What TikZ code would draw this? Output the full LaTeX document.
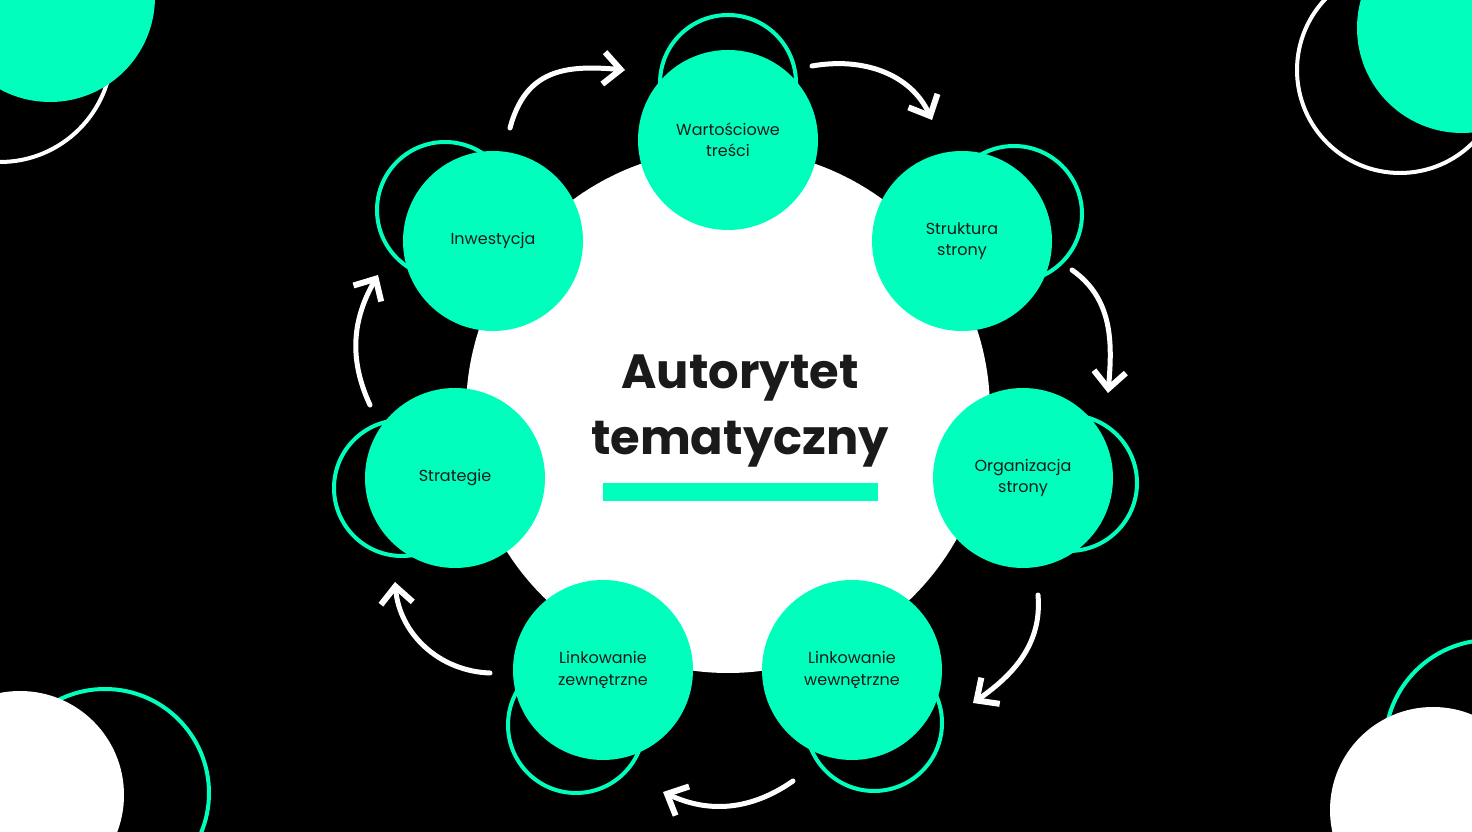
\documentclass[tikz,border=0pt]{standalone}
\usepackage{fontspec}
\setmainfont{Poppins}
\usepackage{tikz}
\usetikzlibrary{arrows.meta,calc,backgrounds}
\definecolor{mint}{RGB}{0,255,189}
\definecolor{ink}{RGB}{26,26,26}

\begin{document}
\begin{tikzpicture}[x=1pt, y=1pt,
    topic/.style={circle, fill=mint, minimum size=180pt, inner sep=0pt, align=center,
      text=ink, font=\fontsize{16}{21.5}\selectfont},
    halo/.style={draw=mint, line width=4pt},
    flow/.style={draw=white, line width=5pt, line cap=round,
      -{Straight Barb[length=17pt,width=32pt,line width=6pt]}},
  ]
    \useasboundingbox (0,0) rectangle (1472,832);

    % The topics around the circle
    \node[topic] (wart)  at (728,692) {Wartościowe\\treści};
    \node[topic] (strk)  at (962,591) {Struktura\\strony};
    \node[topic] (org)   at (1023,354) {Organizacja\\strony};
    \node[topic] (lwew)  at (852,162) {Linkowanie\\wewnętrzne};
    \node[topic] (lzew)  at (603,162) {Linkowanie\\zewnętrzne};
    \node[topic] (strat) at (455,354) {Strategie};
    \node[topic] (inw)   at (493,591) {Inwestycja};

    % Central title
    \node[text=ink, align=center, font=\fontsize{48}{66}\selectfont\bfseries] (title)
      at (740,421) {Autorytet\\tematyczny};
    \fill[mint] (603,331) rectangle (878,349);

    \begin{scope}[on background layer]
      \fill[black] (0,0) rectangle (1472,832);

      % Corner decorations
      \draw[white, line width=4pt] (0,782) circle (112);
      \fill[mint] (50,835) circle (105);
      \draw[white, line width=4pt] (1400,762) circle (103);
      \fill[mint] (1462,804) circle (105);
      \draw[halo] (105,39) circle (104);
      \fill[white] (20,37) circle (104);
      \draw[halo] (1490,87) circle (105);
      \fill[white] (1433,22) circle (103);

      % The big white disc
      \fill[white] (728,421) circle (262);

      % Rings behind the topics
      \draw[halo] ($(wart)+(0,57)$) circle (68);
      \draw[halo] ($(strk)+(52,27)$) circle (68);
      \draw[halo] ($(org)+(46,-5)$) circle (68);
      \draw[halo] ($(lwew)+(22,-53)$) circle (68);
      \draw[halo] ($(lzew)+(-27,-55)$) circle (68);
      \draw[halo] ($(strat)+(-53,-10)$) circle (68);
      \draw[halo] ($(inw)+(-48,31)$) circle (68);
    \end{scope}

    % Arrows from topic to topic
    \draw[flow] ($(inw)+(17,113)$) to[out=75,in=175,looseness=1.2] ($(wart)+(-103,70)$);
    \draw[flow] ($(wart)+(84,74)$) to[out=10,in=115] ($(strk)+(-30,121)$);
    \draw[flow] ($(strk)+(110,-29)$) to[out=-35,in=85] ($(org)+(85,85)$);
    \draw[flow] ($(org)+(15,-117)$) to[out=-85,in=35] ($(lwew)+(121,-33)$);
    \draw[flow] ($(lwew)+(-59,-111)$) to[out=-145,in=-25] ($(lzew)+(60,-122)$);
    \draw[flow] ($(lzew)+(-113,-3)$) to[out=178,in=-85] ($(strat)+(-60,-104)$);
    \draw[flow] ($(strat)+(-85,73)$) to[out=115,in=240] ($(inw)+(-115,-34)$);
\end{tikzpicture}
\end{document}
